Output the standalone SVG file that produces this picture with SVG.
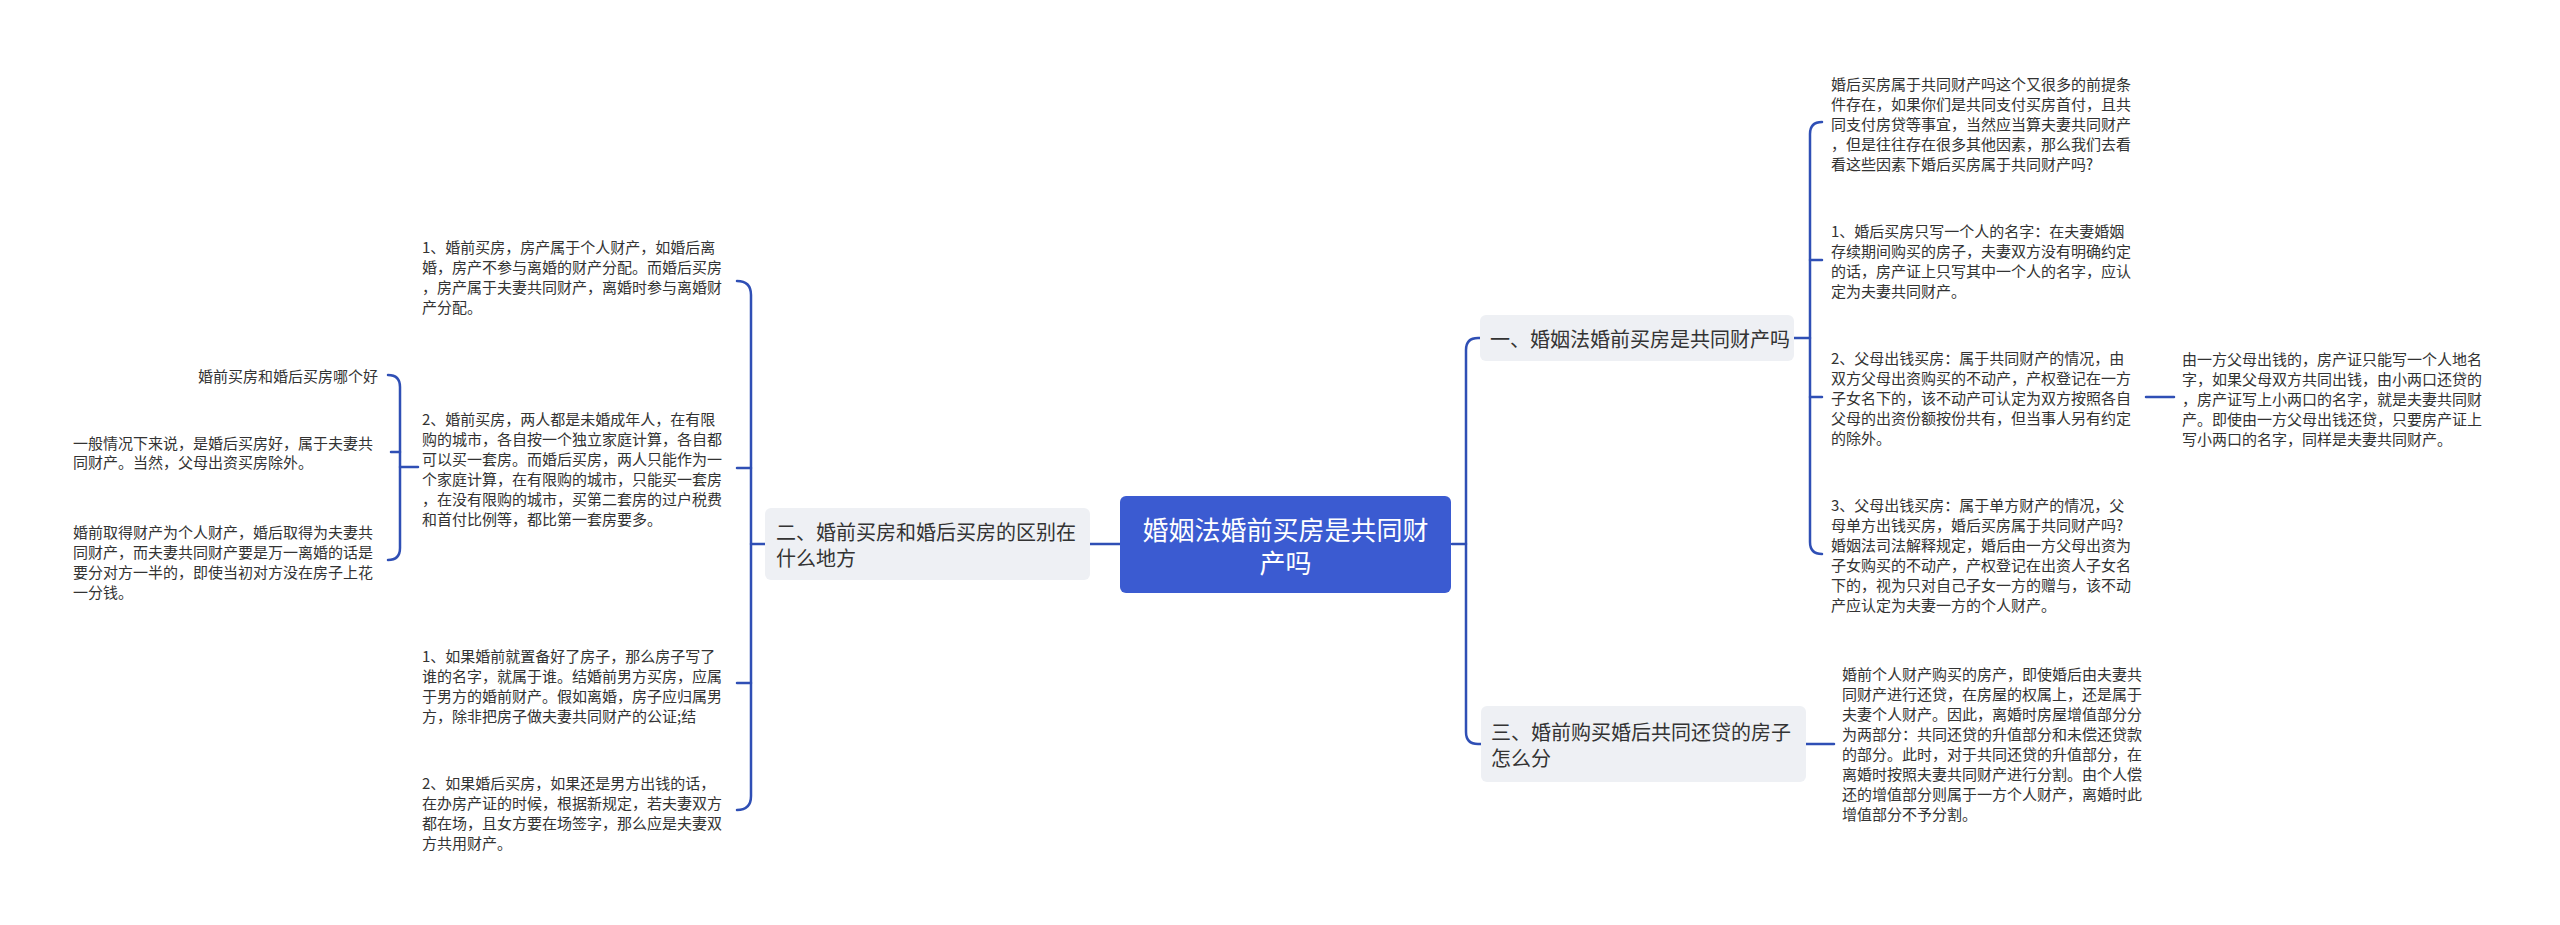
<svg xmlns="http://www.w3.org/2000/svg" width="2560" height="925" viewBox="0 0 2560 925">
<style>
text{font-family:"Noto Sans CJK SC","Noto Sans",sans-serif;dominant-baseline:central}
.t{font-size:15px;fill:#333}
.b{font-size:20px;fill:#333}
.c{font-size:26px;fill:#fff}
.box{fill:#eef0f4}
.ln{fill:none;stroke:#2f4fb5;stroke-width:2.5;stroke-linecap:round}
</style>
<rect width="2560" height="925" fill="#fff"/>
<g id="connectors">
<path class="ln" d="M1120 544H1090"/>
<path class="ln" d="M765 544H751"/>
<path class="ln" d="M737 281Q751 281 751 295V796Q751 810 737 810"/>
<path class="ln" d="M751 468H737"/>
<path class="ln" d="M751 683H737"/>
<path class="ln" d="M418 467H400"/>
<path class="ln" d="M388 375Q400 375 400 387V548Q400 560 388 560"/>
<path class="ln" d="M400 452H391"/>
<path class="ln" d="M1452 544H1466"/>
<path class="ln" d="M1480 338H1478Q1466 338 1466 350V732Q1466 744 1478 744H1481"/>
<path class="ln" d="M1794 338H1810"/>
<path class="ln" d="M1822 122Q1810 122 1810 134V542Q1810 554 1822 554"/>
<path class="ln" d="M1810 260H1822"/>
<path class="ln" d="M1810 397H1822"/>
<path class="ln" d="M2146 397H2174"/>
<path class="ln" d="M1806 744H1834"/>
</g>
<g id="center">
<rect x="1120" y="496" width="331" height="97" rx="6" fill="#3b5bd1"/>
<text class="c" text-anchor="middle" x="1285.5"><tspan x="1285.5" y="528">婚姻法婚前买房是共同财</tspan><tspan x="1285.5" y="561">产吗</tspan></text>
</g>
<g id="branch-left">
<rect class="box" x="765" y="508" width="325" height="72" rx="6"/>
<text class="b"><tspan x="776" y="531">二、婚前买房和婚后买房的区别在</tspan><tspan x="776" y="557">什么地方</tspan></text>
</g>
<g id="branch-right-1">
<rect class="box" x="1480" y="315" width="314" height="46" rx="6"/>
<text class="b" x="1490" y="338">一、婚姻法婚前买房是共同财产吗</text>
</g>
<g id="branch-right-3">
<rect class="box" x="1481" y="706" width="325" height="76" rx="6"/>
<text class="b"><tspan x="1491" y="731">三、婚前购买婚后共同还贷的房子</tspan><tspan x="1491" y="757">怎么分</tspan></text>
</g>
<g id="L1">
<text class="t"><tspan x="422" y="246">1、婚前买房，房产属于个人财产，如婚后离</tspan><tspan x="422" y="266">婚，房产不参与离婚的财产分配。而婚后买房</tspan><tspan x="422" y="286">，房产属于夫妻共同财产，离婚时参与离婚财</tspan><tspan x="422" y="306">产分配。</tspan></text>
</g>
<g id="L2">
<text class="t"><tspan x="422" y="418">2、婚前买房，两人都是未婚成年人，在有限</tspan><tspan x="422" y="438">购的城市，各自按一个独立家庭计算，各自都</tspan><tspan x="422" y="458">可以买一套房。而婚后买房，两人只能作为一</tspan><tspan x="422" y="478">个家庭计算，在有限购的城市，只能买一套房</tspan><tspan x="422" y="498">，在没有限购的城市，买第二套房的过户税费</tspan><tspan x="422" y="518">和首付比例等，都比第一套房要多。</tspan></text>
</g>
<g id="L3">
<text class="t"><tspan x="422" y="655">1、如果婚前就置备好了房子，那么房子写了</tspan><tspan x="422" y="675">谁的名字，就属于谁。结婚前男方买房，应属</tspan><tspan x="422" y="695">于男方的婚前财产。假如离婚，房子应归属男</tspan><tspan x="422" y="715">方，除非把房子做夫妻共同财产的公证;结</tspan></text>
</g>
<g id="L4">
<text class="t"><tspan x="422" y="782">2、如果婚后买房，如果还是男方出钱的话，</tspan><tspan x="422" y="802">在办房产证的时候，根据新规定，若夫妻双方</tspan><tspan x="422" y="822">都在场，且女方要在场签字，那么应是夫妻双</tspan><tspan x="422" y="842">方共用财产。</tspan></text>
</g>
<g id="C1">
<text class="t" x="378" y="375" text-anchor="end">婚前买房和婚后买房哪个好</text>
</g>
<g id="C2">
<text class="t"><tspan x="73" y="442">一般情况下来说，是婚后买房好，属于夫妻共</tspan><tspan x="73" y="461">同财产。当然，父母出资买房除外。</tspan></text>
</g>
<g id="C3">
<text class="t"><tspan x="73" y="531">婚前取得财产为个人财产，婚后取得为夫妻共</tspan><tspan x="73" y="551">同财产，而夫妻共同财产要是万一离婚的话是</tspan><tspan x="73" y="571">要分对方一半的，即使当初对方没在房子上花</tspan><tspan x="73" y="591">一分钱。</tspan></text>
</g>
<g id="T1">
<text class="t"><tspan x="1831" y="83">婚后买房属于共同财产吗这个又很多的前提条</tspan><tspan x="1831" y="103">件存在，如果你们是共同支付买房首付，且共</tspan><tspan x="1831" y="123">同支付房贷等事宜，当然应当算夫妻共同财产</tspan><tspan x="1831" y="143">，但是往往存在很多其他因素，那么我们去看</tspan><tspan x="1831" y="163">看这些因素下婚后买房属于共同财产吗?</tspan></text>
</g>
<g id="T2">
<text class="t"><tspan x="1831" y="230">1、婚后买房只写一个人的名字：在夫妻婚姻</tspan><tspan x="1831" y="250">存续期间购买的房子，夫妻双方没有明确约定</tspan><tspan x="1831" y="270">的话，房产证上只写其中一个人的名字，应认</tspan><tspan x="1831" y="290">定为夫妻共同财产。</tspan></text>
</g>
<g id="T3">
<text class="t"><tspan x="1831" y="357">2、父母出钱买房：属于共同财产的情况，由</tspan><tspan x="1831" y="377">双方父母出资购买的不动产，产权登记在一方</tspan><tspan x="1831" y="397">子女名下的，该不动产可认定为双方按照各自</tspan><tspan x="1831" y="417">父母的出资份额按份共有，但当事人另有约定</tspan><tspan x="1831" y="437">的除外。</tspan></text>
</g>
<g id="T4">
<text class="t"><tspan x="1831" y="504">3、父母出钱买房：属于单方财产的情况，父</tspan><tspan x="1831" y="524">母单方出钱买房，婚后买房属于共同财产吗?</tspan><tspan x="1831" y="544">婚姻法司法解释规定，婚后由一方父母出资为</tspan><tspan x="1831" y="564">子女购买的不动产，产权登记在出资人子女名</tspan><tspan x="1831" y="584">下的，视为只对自己子女一方的赠与，该不动</tspan><tspan x="1831" y="604">产应认定为夫妻一方的个人财产。</tspan></text>
</g>
<g id="T5">
<text class="t"><tspan x="2182" y="358">由一方父母出钱的，房产证只能写一个人地名</tspan><tspan x="2182" y="378">字，如果父母双方共同出钱，由小两口还贷的</tspan><tspan x="2182" y="398">，房产证写上小两口的名字，就是夫妻共同财</tspan><tspan x="2182" y="418">产。即使由一方父母出钱还贷，只要房产证上</tspan><tspan x="2182" y="438">写小两口的名字，同样是夫妻共同财产。</tspan></text>
</g>
<g id="T6">
<text class="t"><tspan x="1842" y="673">婚前个人财产购买的房产，即使婚后由夫妻共</tspan><tspan x="1842" y="693">同财产进行还贷，在房屋的权属上，还是属于</tspan><tspan x="1842" y="713">夫妻个人财产。因此，离婚时房屋增值部分分</tspan><tspan x="1842" y="733">为两部分：共同还贷的升值部分和未偿还贷款</tspan><tspan x="1842" y="753">的部分。此时，对于共同还贷的升值部分，在</tspan><tspan x="1842" y="773">离婚时按照夫妻共同财产进行分割。由个人偿</tspan><tspan x="1842" y="793">还的增值部分则属于一方个人财产，离婚时此</tspan><tspan x="1842" y="813">增值部分不予分割。</tspan></text>
</g>
</svg>
